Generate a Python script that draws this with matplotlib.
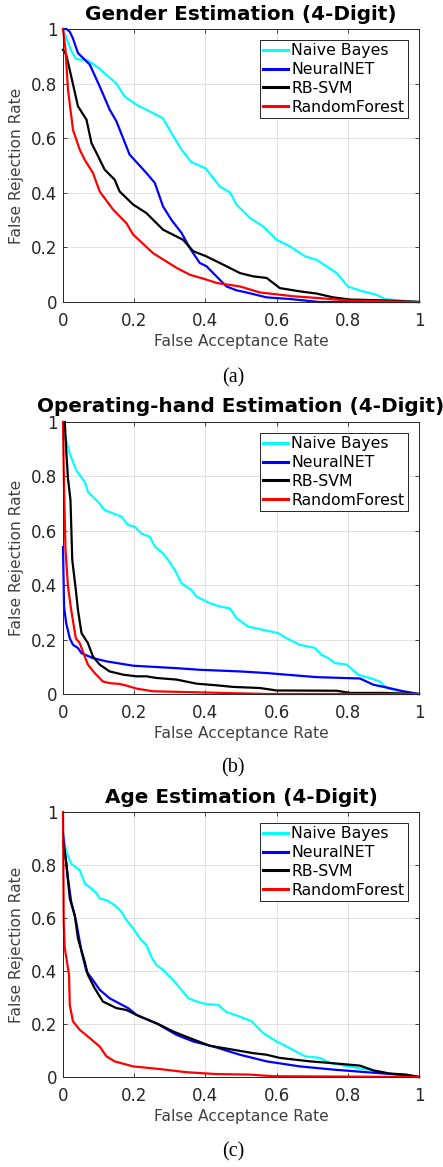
import matplotlib
matplotlib.use("Agg")
import matplotlib.pyplot as plt

W, H = 443, 1167
plt.rcParams['font.family'] = ['DejaVu Sans']

labels = ["Naive Bayes", "NeuralNET", "RB-SVM", "RandomForest"]
colors = ["#00ffff", "#0000ff", "#000000", "#ff0000"]

# ---- (a) gender ----
gender_nb_far = [0, 0.023, 0.037, 0.07, 0.10, 0.15, 0.173, 0.206, 0.28, 0.31, 0.333, 0.36, 0.40, 0.44, 0.47,
                 0.487, 0.525, 0.562, 0.60, 0.637, 0.68, 0.712, 0.769, 0.80, 0.834, 0.88, 0.904, 0.947, 1.0]
gender_nb_frr = [1.0, 0.92, 0.89, 0.885, 0.857, 0.80, 0.753, 0.723, 0.674, 0.607, 0.558, 0.513, 0.49, 0.424, 0.40,
                 0.357, 0.308, 0.277, 0.228, 0.204, 0.167, 0.155, 0.106, 0.057, 0.042, 0.027, 0.011, 0.006, 0.0]
gender_nn_far = [0, 0.01, 0.019, 0.028, 0.042, 0.075, 0.103, 0.131, 0.15, 0.187, 0.234, 0.258, 0.281, 0.305, 0.333,
                 0.356, 0.384, 0.403, 0.431, 0.459, 0.487, 0.515, 0.572, 0.637, 0.72, 1.0]
gender_nn_frr = [1.0, 1.0, 0.99, 0.965, 0.912, 0.87, 0.79, 0.705, 0.662, 0.54, 0.473, 0.436, 0.35, 0.30, 0.253,
                 0.198, 0.143, 0.131, 0.094, 0.057, 0.043, 0.035, 0.017, 0.011, 0.0, 0.0]
gender_svm_far = [0, 0.009, 0.023, 0.042, 0.066, 0.08, 0.094, 0.117, 0.145, 0.159, 0.197, 0.234, 0.281, 0.337, 0.366,
                  0.403, 0.459, 0.497, 0.534, 0.572, 0.609, 0.665, 0.712, 0.759, 0.806, 0.90, 1.0]
gender_svm_frr = [0.924, 0.906, 0.827, 0.717, 0.668, 0.582, 0.546, 0.485, 0.448, 0.405, 0.357, 0.326, 0.265, 0.228, 0.186,
                  0.167, 0.131, 0.106, 0.094, 0.088, 0.051, 0.039, 0.031, 0.017, 0.009, 0.006, 0.0]
gender_rf_far = [0, 0.007, 0.014, 0.028, 0.047, 0.061, 0.084, 0.103, 0.141, 0.178, 0.197, 0.253, 0.319, 0.356, 0.403,
                 0.431, 0.497, 0.553, 0.647, 0.712, 0.806, 1.0]
gender_rf_frr = [1.0, 0.924, 0.778, 0.631, 0.558, 0.521, 0.473, 0.405, 0.338, 0.289, 0.247, 0.179, 0.125, 0.10, 0.082,
                 0.07, 0.057, 0.035, 0.021, 0.015, 0.005, 0.0]

# ---- (b) operating hand ----
hand_nb_far = [0.005, 0.019, 0.037, 0.061, 0.07, 0.103, 0.117, 0.141, 0.164, 0.183, 0.202, 0.22, 0.244, 0.258, 0.281,
               0.295, 0.314, 0.333, 0.36, 0.375, 0.412, 0.44, 0.469, 0.487, 0.52, 0.562, 0.604, 0.628, 0.665, 0.708,
               0.726, 0.745, 0.764, 0.797, 0.829, 0.862, 0.89, 0.909, 0.947, 1.0]
hand_nb_frr = [0.95, 0.884, 0.823, 0.78, 0.743, 0.70, 0.676, 0.664, 0.652, 0.621, 0.615, 0.59, 0.578, 0.542, 0.517,
               0.493, 0.456, 0.407, 0.383, 0.358, 0.334, 0.322, 0.315, 0.279, 0.248, 0.236, 0.224, 0.205, 0.181, 0.169,
               0.144, 0.132, 0.114, 0.108, 0.071, 0.059, 0.046, 0.022, 0.01, 0.0]
hand_nn_far = [0, 0.003, 0.009, 0.019, 0.028, 0.042, 0.052, 0.084, 0.122, 0.197, 0.319, 0.384, 0.497, 0.572, 0.628,
               0.712, 0.834, 0.872, 0.909, 0.956, 1.0]
hand_nn_frr = [0.54, 0.32, 0.26, 0.205, 0.181, 0.169, 0.15, 0.132, 0.12, 0.104, 0.095, 0.089, 0.083, 0.077, 0.071,
               0.062, 0.057, 0.034, 0.024, 0.01, 0.0]
hand_svm_far = [0.005, 0.009, 0.014, 0.021, 0.026, 0.036, 0.042, 0.052, 0.07, 0.084, 0.103, 0.131, 0.169, 0.206, 0.234,
                0.262, 0.319, 0.375, 0.431, 0.478, 0.553, 0.60, 0.769, 0.806, 0.90, 1.0]
hand_svm_frr = [1.0, 0.896, 0.792, 0.713, 0.493, 0.383, 0.309, 0.224, 0.187, 0.138, 0.108, 0.083, 0.071, 0.065, 0.065,
                0.059, 0.053, 0.038, 0.032, 0.026, 0.022, 0.013, 0.012, 0.004, 0.004, 0.0]
hand_rf_far = [0, 0.003, 0.007, 0.014, 0.023, 0.036, 0.047, 0.061, 0.07, 0.089, 0.112, 0.131, 0.159, 0.178, 0.206,
               0.253, 0.384, 0.572, 1.0]
hand_rf_frr = [1.0, 0.75, 0.53, 0.395, 0.309, 0.205, 0.187, 0.138, 0.108, 0.077, 0.046, 0.04, 0.037, 0.031, 0.02,
               0.01, 0.006, 0.0, 0.0]

# ---- (c) age ----
age_nb_far = [0, 0.009, 0.023, 0.047, 0.061, 0.08, 0.094, 0.103, 0.122, 0.145, 0.164, 0.178, 0.197, 0.216, 0.234,
              0.248, 0.262, 0.281, 0.309, 0.337, 0.352, 0.375, 0.403, 0.436, 0.459, 0.497, 0.53, 0.562, 0.60, 0.637,
              0.68, 0.722, 0.75, 0.778, 0.853, 0.90, 1.0]
age_nb_frr = [0.925, 0.85, 0.805, 0.78, 0.73, 0.711, 0.693, 0.674, 0.667, 0.649, 0.624, 0.592, 0.561, 0.523, 0.498,
              0.454, 0.423, 0.404, 0.366, 0.322, 0.297, 0.285, 0.275, 0.272, 0.245, 0.228, 0.21, 0.166, 0.134, 0.109,
              0.078, 0.072, 0.053, 0.046, 0.028, 0.015, 0.0]
age_nn_far = [0, 0.005, 0.014, 0.023, 0.037, 0.052, 0.066, 0.084, 0.103, 0.131, 0.183, 0.206, 0.262, 0.319, 0.366,
              0.422, 0.497, 0.572, 0.665, 0.759, 0.853, 0.947, 1.0]
age_nn_frr = [0.918, 0.85, 0.749, 0.661, 0.586, 0.473, 0.398, 0.366, 0.329, 0.297, 0.26, 0.235, 0.203, 0.159, 0.134,
              0.115, 0.084, 0.059, 0.04, 0.028, 0.018, 0.009, 0.0]
age_svm_far = [0, 0.009, 0.019, 0.033, 0.042, 0.061, 0.07, 0.089, 0.112, 0.15, 0.178, 0.216, 0.272, 0.309, 0.356,
               0.412, 0.478, 0.534, 0.572, 0.609, 0.694, 0.75, 0.834, 0.872, 0.918, 0.965, 1.0]
age_svm_frr = [0.887, 0.812, 0.674, 0.611, 0.523, 0.435, 0.385, 0.335, 0.285, 0.26, 0.253, 0.228, 0.197, 0.172, 0.147,
               0.118, 0.103, 0.09, 0.084, 0.072, 0.059, 0.053, 0.043, 0.025, 0.013, 0.009, 0.0]
age_rf_far = [0, 0.002, 0.005, 0.014, 0.017, 0.019, 0.028, 0.047, 0.075, 0.103, 0.122, 0.145, 0.197, 0.272, 0.347,
              0.431, 0.525, 0.59, 1.0]
age_rf_frr = [1.0, 0.586, 0.486, 0.41, 0.385, 0.272, 0.21, 0.178, 0.147, 0.115, 0.078, 0.059, 0.04, 0.03, 0.018,
              0.011, 0.009, 0.003, 0.0]

panels = [
    ("Gender Estimation (4-Digit)", "(a)", 29, 302, 14.5, 377.5,
     [(gender_nb_far, gender_nb_frr), (gender_nn_far, gender_nn_frr),
      (gender_svm_far, gender_svm_frr), (gender_rf_far, gender_rf_frr)]),
    ("Operating-hand Estimation (4-Digit)", "(b)", 422, 694, 406, 768,
     [(hand_nb_far, hand_nb_frr), (hand_nn_far, hand_nn_frr),
      (hand_svm_far, hand_svm_frr), (hand_rf_far, hand_rf_frr)]),
    ("Age Estimation (4-Digit)", "(c)", 812, 1077, 797.5, 1151.5,
     [(age_nb_far, age_nb_frr), (age_nn_far, age_nn_frr),
      (age_svm_far, age_svm_frr), (age_rf_far, age_rf_frr)]),
]

fig = plt.figure(figsize=(W / 100, H / 100), dpi=100)
left, right = 63, 419
dark = "#262626"

for title, cap, top, bottom, title_y, cap_y, series in panels:
    ax = fig.add_axes([left / W, 1 - bottom / H, (right - left) / W, (bottom - top) / H])
    for (x, y), lab, c in zip(series, labels, colors):
        ax.plot(x, y, color=c, lw=1.6, label=lab, clip_on=False)
    ax.set_xlim(0, 1)
    ax.set_ylim(0, 1)
    ticks = [0, 0.2, 0.4, 0.6, 0.8, 1]
    ticklabels = ["0", "0.2", "0.4", "0.6", "0.8", "1"]
    ax.set_xticks(ticks)
    ax.set_xticklabels(ticklabels)
    ax.set_yticks(ticks)
    ax.set_yticklabels(ticklabels)
    ax.tick_params(direction="in", top=True, right=True, length=3, width=0.6,
                   color=dark, labelcolor=dark, labelsize=12)
    ax.tick_params(axis="x", pad=7)
    ax.tick_params(axis="y", pad=4)
    ax.grid(True, color="#dcdcdc", lw=0.6)
    ax.set_axisbelow(True)
    for s in ax.spines.values():
        s.set_color(dark)
        s.set_linewidth(0.7)
    leg = ax.legend(loc="upper right", fontsize=11.3, handlelength=1.6, handletextpad=0.2,
                    labelspacing=0.24, borderpad=0.22, borderaxespad=0.7,
                    fancybox=False, framealpha=1, edgecolor=dark)
    leg.get_frame().set_linewidth(0.7)
    for h in leg.get_lines():
        h.set_linewidth(2.2)

    cx = (left + right) / 2 / W
    fig.text(cx, 1 - title_y / H, title, ha="center", va="center",
             fontsize=14.4, fontweight="bold", color="black")
    fig.text(cx, 1 - (bottom + 32) / H, "False Acceptance Rate", ha="center", va="top",
             fontsize=11.2, color="#404040")
    fig.text(16.5 / W, 1 - (top + bottom) / 2 / H, "False Rejection Rate", ha="center", va="center",
             rotation=90, fontsize=11.2, color="#404040")
    fig.text(233 / W, 1 - cap_y / H, cap, ha="center", va="center",
             fontsize=14.5, family="Liberation Serif", color="black")

fig.savefig("out.png", dpi=100)
